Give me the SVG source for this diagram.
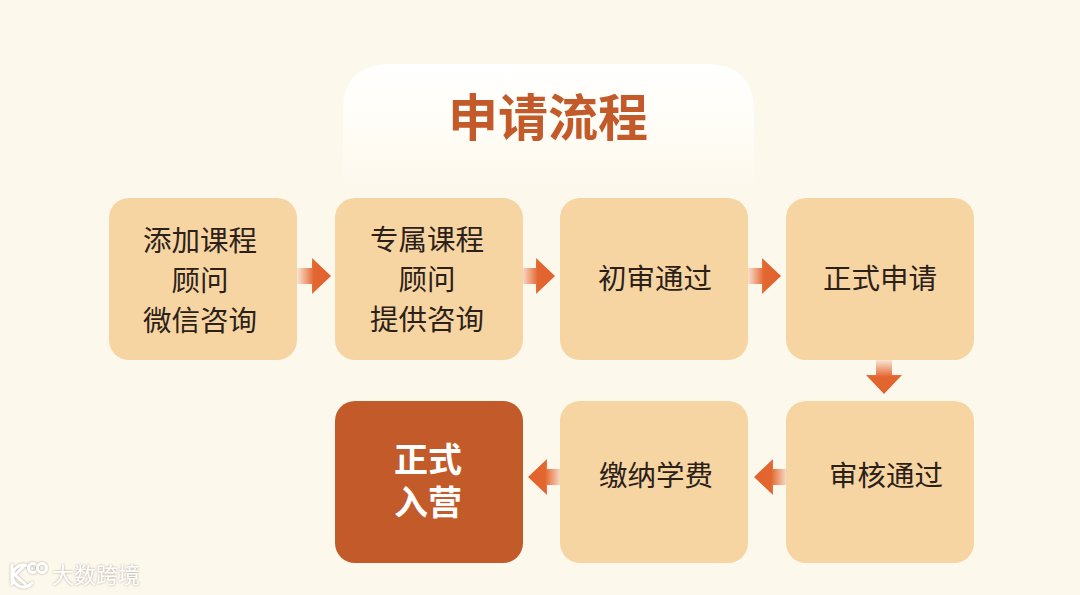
<svg xmlns="http://www.w3.org/2000/svg" width="1080" height="595" viewBox="0 0 1080 595">
<style>
text{font-family:"Noto Sans CJK SC","Noto Sans",sans-serif;text-anchor:middle}
.box{fill:#f6d5a3}
.lbl{font-size:28.5px;fill:#2b2118;font-weight:400}
.lbl2{font-size:34px;fill:#fff;font-weight:700}
.wm{font-size:22px;fill:#fff;text-anchor:start;filter:url(#sh)}
.lg{fill:none;stroke:#fff;stroke-width:3;stroke-linecap:round;filter:url(#sh)}
</style>
<defs>
<linearGradient id="hd" x1="0" y1="0" x2="0" y2="1"><stop offset="0" stop-color="#fff"/><stop offset="0.45" stop-color="#fffdf7"/><stop offset="1" stop-color="#fdf8ec"/></linearGradient>
<linearGradient id="ar" x1="0" y1="0" x2="1" y2="0"><stop offset="0" stop-color="#e3652f" stop-opacity="0.12"/><stop offset="0.5" stop-color="#e3652f"/><stop offset="1" stop-color="#e0622e"/></linearGradient>
<linearGradient id="al" x1="1" y1="0" x2="0" y2="0"><stop offset="0" stop-color="#e3652f" stop-opacity="0.12"/><stop offset="0.5" stop-color="#e3652f"/><stop offset="1" stop-color="#e0622e"/></linearGradient>
<linearGradient id="ad" x1="0" y1="0" x2="0" y2="1"><stop offset="0" stop-color="#e3652f" stop-opacity="0.12"/><stop offset="0.5" stop-color="#e3652f"/><stop offset="1" stop-color="#e0622e"/></linearGradient>
<filter id="sh" x="-20%" y="-30%" width="140%" height="160%"><feDropShadow dx="0" dy="0" stdDeviation="1.2" flood-color="#8a8070" flood-opacity="0.75"/></filter>
<path id="r" d="M0 -8H15V-18L34 0L15 18V8H0Z"/>
</defs>
<rect width="1080" height="595" fill="#fdf8ec"/>
<g id="title">
<path d="M343 190V112Q343 64 391 64H706Q754 64 754 112V190Z" fill="url(#hd)"/>
<text x="548" y="136" font-size="50" font-weight="700" fill="#c35a2a" style="font-size:50px">申请流程</text>
</g>
<g id="connectors">
<use href="#r" transform="translate(297 276)" fill="url(#ar)"/>
<use href="#r" transform="translate(521 276)" fill="url(#ar)"/>
<use href="#r" transform="translate(747 276)" fill="url(#ar)"/>
<use href="#r" transform="translate(884 360) rotate(90)" fill="url(#ar)"/>
<use href="#r" transform="translate(788 477) rotate(180)" fill="url(#ar)"/>
<use href="#r" transform="translate(562 477) rotate(180)" fill="url(#ar)"/>
</g>
<g id="n1"><rect class="box" x="109" y="198" width="188" height="162" rx="20"/>
<text class="lbl" x="200" y="251">添加课程</text><text class="lbl" x="200" y="291">顾问</text><text class="lbl" x="200" y="331">微信咨询</text></g>
<g id="n2"><rect class="box" x="335" y="198" width="188" height="162" rx="20"/>
<text class="lbl" x="427" y="250">专属课程</text><text class="lbl" x="427" y="290">顾问</text><text class="lbl" x="427" y="330">提供咨询</text></g>
<g id="n3"><rect class="box" x="560" y="198" width="188" height="162" rx="20"/>
<text class="lbl" x="655" y="289">初审通过</text></g>
<g id="n4"><rect class="box" x="786" y="198" width="188" height="162" rx="20"/>
<text class="lbl" x="880" y="289">正式申请</text></g>
<g id="n5"><rect class="box" x="786" y="401" width="188" height="162" rx="20"/>
<text class="lbl" x="886" y="486">审核通过</text></g>
<g id="n6"><rect class="box" x="560" y="401" width="188" height="162" rx="20"/>
<text class="lbl" x="656" y="486">缴纳学费</text></g>
<g id="n7"><rect x="335" y="401" width="188" height="162" rx="20" fill="#c35a2a"/>
<text class="lbl2" x="428" y="472">正式</text><text class="lbl2" x="428" y="515">入营</text></g>
<g id="watermark">
<path class="lg" d="M12 565V584M24 566L15 575L25 584M32 569A11 11 0 1 0 32 583"/>
<circle class="lg" cx="33" cy="568" r="4.5"/><circle class="lg" cx="42" cy="568" r="4.5"/>
<text class="wm" x="52" y="583">大数跨境</text>
</g>
</svg>
